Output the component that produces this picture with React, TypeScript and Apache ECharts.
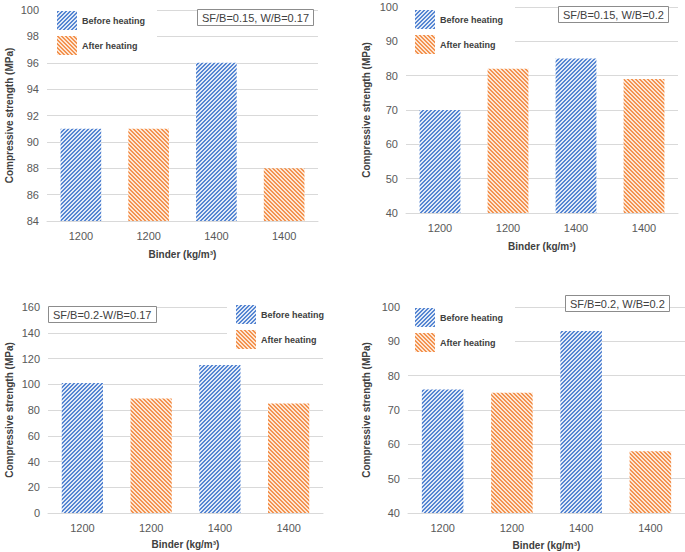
import React, { useEffect, useRef } from "react";
import * as echarts from "echarts";

const categories = ["1200", "1200", "1400", "1400"];
const barKind = ["Before heating", "After heating", "Before heating", "After heating"];
const seriesNames = ["Before heating", "After heating"];

const panel1Values = [91, 91, 96, 88];
const panel2Values = [70, 82, 85, 79];
const panel3Values = [101, 89, 115, 85];
const panel4Values = [76, 75, 93, 58];

const panelLabels = [
  "SF/B=0.15, W/B=0.17",
  "SF/B=0.15, W/B=0.2",
  "SF/B=0.2-W/B=0.17",
  "SF/B=0.2, W/B=0.2",
];

const yMins = [84, 40, 0, 40];
const yMaxs = [100, 100, 160, 100];
const yIntervals = [2, 10, 20, 10];

const xTitle = "Binder (kg/m³)";
const yTitle = "Compressive strength (MPa)";

const FONT = "'Liberation Sans', Arial, sans-serif";
const BLUE = "#5686d2";
const BLUE_BG = "#e2eaf7";
const ORANGE = "#f39350";
const ORANGE_BG = "#fde6d4";

const grids = [
  { left: 47, right: 367, top: 10, bottom: 331 },
  { left: 406, right: 7, top: 7, bottom: 339 },
  { left: 48, right: 362, top: 307, bottom: 39 },
  { left: 408, right: 0, top: 307, bottom: 39 },
];
const xNameGaps = [28, 28, 26, 27];
const yNameGaps = [33, 35, 34, 37];
const legendPos = [
  { left: 47, top: 8, padding: [3, 12, 3, 10] },
  { left: 406, top: 6, padding: [4, 12, 3, 9] },
  { left: 227, top: 302, padding: [3, 6, 3, 9] },
  { left: 406, top: 304, padding: [4, 12, 3, 9] },
];
const titlePos = [
  { left: 197, top: 9 },
  { left: 558, top: 6 },
  { left: 48, top: 306 },
  { left: 565, top: 295 },
];

function makeHatch(color: string, bg: string, up: boolean) {
  const size = 4;
  const c = document.createElement("canvas");
  c.width = size;
  c.height = size;
  const ctx = c.getContext("2d")!;
  ctx.fillStyle = bg;
  ctx.fillRect(0, 0, size, size);
  ctx.fillStyle = color;
  for (let y = 0; y < size; y++) {
    for (let x = 0; x < size; x++) {
      const k = up ? (x + y) % size : (x - y + size) % size;
      if (k < 2) ctx.fillRect(x, y, 1, 1);
    }
  }
  return { image: c, repeat: "repeat", imageWidth: size, imageHeight: size };
}

export default function App() {
  const ref = useRef<HTMLDivElement>(null);
  useEffect(() => {
    if (!ref.current) return;
    const chart = echarts.init(ref.current, null, { renderer: "svg" });
    const panels = [panel1Values, panel2Values, panel3Values, panel4Values];
    const hatchBefore = makeHatch(BLUE, BLUE_BG, true);
    const hatchAfter = makeHatch(ORANGE, ORANGE_BG, false);

    const series: any[] = [];
    panels.forEach((vals, p) => {
      seriesNames.forEach((name) => {
        series.push({
          type: "bar",
          name,
          xAxisIndex: p,
          yAxisIndex: p,
          barWidth: "60%",
          barGap: "-100%",
          itemStyle: {
            color: name === "Before heating" ? hatchBefore : hatchAfter,
          },
          data: vals.map((v, i) => (barKind[i] === name ? v : "-")),
        });
      });
    });

    const option: any = {
      animation: false,
      backgroundColor: "#ffffff",
      textStyle: { fontFamily: FONT },
      grid: grids.map((g) => ({ ...g, containLabel: false })),
      title: panelLabels.map((t, p) => ({
        text: t,
        left: titlePos[p].left,
        top: titlePos[p].top,
        padding: [3, 5, 3, 5],
        borderColor: "#8c8c8c",
        borderWidth: 1,
        backgroundColor: "#ffffff",
        textStyle: { fontSize: 11, fontWeight: "normal", color: "#404040", fontFamily: FONT },
        z: 10,
      })),
      legend: legendPos.map((l) => ({
        data: seriesNames,
        orient: "vertical",
        left: l.left,
        top: l.top,
        padding: l.padding,
        backgroundColor: "#ffffff",
        icon: "rect",
        itemWidth: 20,
        itemHeight: 19,
        itemGap: 6,
        textStyle: { fontSize: 9, fontWeight: "bold", color: "#404040", fontFamily: FONT },
        selectedMode: false,
        z: 10,
      })),
      xAxis: grids.map((_, p) => ({
        type: "category",
        gridIndex: p,
        data: categories,
        axisTick: { show: false },
        axisLine: { show: true, lineStyle: { color: "#d9d9d9" } },
        axisLabel: { fontSize: 11, color: "#595959", margin: 9, fontFamily: FONT },
        name: xTitle,
        nameLocation: "middle",
        nameGap: xNameGaps[p],
        nameTextStyle: { fontSize: 10, fontWeight: "bold", color: "#404040", fontFamily: FONT },
      })),
      yAxis: grids.map((_, p) => ({
        type: "value",
        gridIndex: p,
        min: yMins[p],
        max: yMaxs[p],
        interval: yIntervals[p],
        axisLine: { show: false },
        axisTick: { show: false },
        splitLine: { lineStyle: { color: "#d9d9d9", width: 1 } },
        axisLabel: { fontSize: 11, color: "#595959", margin: 8, fontFamily: FONT },
        name: yTitle,
        nameLocation: "middle",
        nameGap: yNameGaps[p],
        nameTextStyle: { fontSize: 10, fontWeight: "bold", color: "#404040", fontFamily: FONT },
      })),
      series,
    };
    chart.setOption(option);
    return () => chart.dispose();
  }, []);
  return (
    <div
      ref={ref}
      style={{ position: "absolute", left: 0, top: 0, width: 685, height: 552, background: "#fff" }}
    />
  );
}
